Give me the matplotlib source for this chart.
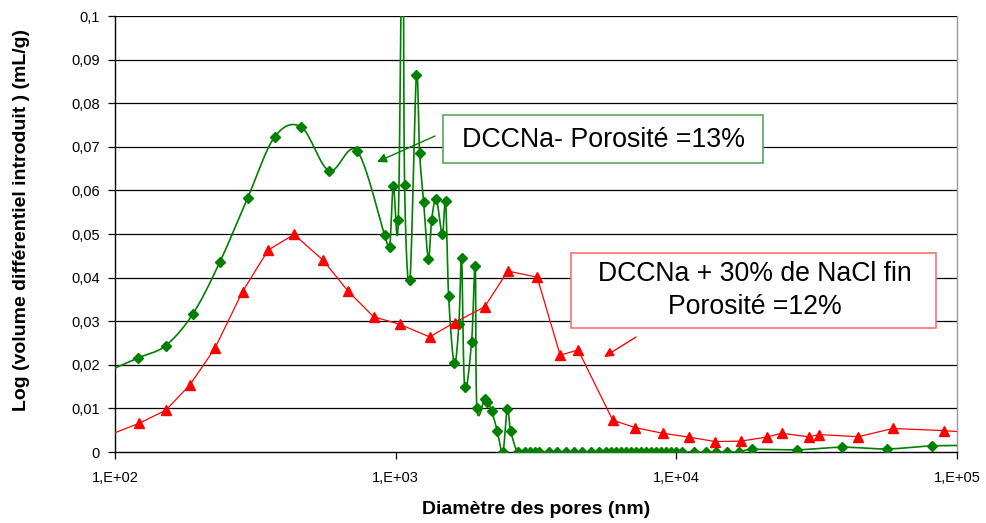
import numpy as np
import matplotlib
matplotlib.use("Agg")
import matplotlib.pyplot as plt
from matplotlib.patches import Rectangle
from matplotlib.ticker import FixedLocator, NullLocator

plt.rcParams['font.family'] = ['Liberation Sans', 'DejaVu Sans']

# ---------------- data ----------------
green_x = [90, 121, 151.5, 189.6, 236.5, 296.6, 370.9, 461.6, 579, 728, 913.7, 952, 981, 1022,
           1059, 1076, 1124, 1185, 1217, 1258, 1307, 1343, 1396, 1466, 1506, 1544, 1617, 1680,
           1718, 1761, 1864, 1921, 1947, 2073, 2120, 2196, 2301, 2409, 2498, 2567, 2717,
           2878, 2999, 3124, 3254, 3532, 3771, 4060, 4335, 4629, 4984, 5321, 5636, 5871,
           6115, 6373, 6640, 6918, 7207, 7508, 7822, 8149, 8491, 8844, 9213, 9601, 10000,
           10505, 11590, 12790, 13880, 15190, 16760, 18640, 26960, 38960, 56340, 81470, 119700]
green_y = [0.0180, 0.0216, 0.0244, 0.0317, 0.0436, 0.0582, 0.0723, 0.0745, 0.0645, 0.0691, 0.0497,
           0.0471, 0.0611, 0.0531, 0.1300, 0.0612, 0.0394, 0.0864, 0.0685, 0.0573, 0.0443, 0.0532,
           0.0580, 0.0499, 0.0576, 0.0358, 0.0203, 0.0294, 0.0445, 0.0150, 0.0252, 0.0427, 0.0102,
           0.0122, 0.0115, 0.0095, 0.0049, 0.0, 0.0099, 0.0049, 0.0,
           0, 0, 0, 0, 0, 0, 0, 0, 0, 0, 0, 0, 0, 0, 0, 0, 0, 0, 0, 0, 0, 0, 0, 0, 0, 0,
           0, 0, 0, 0, 0, 0, 0.0006, 0.0005, 0.0011, 0.0007, 0.0014, 0.0015]

red_x = [92, 122, 151.9, 184.9, 227, 284.8, 351.3, 434.6, 551, 676.6, 835, 1033, 1321, 1622,
         2075, 2510, 3193, 3857, 4468, 5934, 7130, 8935, 11120, 13740, 16990, 20960, 23710,
         29580, 32360, 44440, 59180, 89700, 125000]
red_y = [0.0035, 0.0066, 0.0096, 0.0154, 0.0238, 0.0368, 0.0463, 0.0499, 0.0440, 0.0369, 0.0310,
         0.0293, 0.0264, 0.0297, 0.0333, 0.0415, 0.0401, 0.0222, 0.0234, 0.0073, 0.0056, 0.0043,
         0.0034, 0.0024, 0.0025, 0.0034, 0.0043, 0.0035, 0.0040, 0.0035, 0.0054, 0.0049, 0.0043]

y_ticks = [0, 0.01, 0.02, 0.03, 0.04, 0.05, 0.06, 0.07, 0.08, 0.09, 0.1]
y_tick_labels = ["0", "0,01", "0,02", "0,03", "0,04", "0,05", "0,06", "0,07", "0,08", "0,09", "0,1"]
x_ticks = [1e2, 1e3, 1e4, 1e5]
x_tick_labels = ["1,E+02", "1,E+03", "1,E+04", "1,E+05"]

label_green = "DCCNa- Porosité =13%"
label_red_1 = "DCCNa + 30% de NaCl fin"
label_red_2 = "Porosité =12%"
xlabel = "Diamètre des pores (nm)"
ylabel = "Log (volume différentiel introduit ) (mL/g)"

GREEN = "#008000"
RED = "#FF0000"


def smooth(xs, ys, n=16):
    """Catmull-Rom (Excel-like smoothed line) in log10(x)/y space."""
    u = np.log10(np.asarray(xs, float))
    v = np.asarray(ys, float)
    P = np.column_stack([u, v])
    P = np.vstack([P[0], P, P[-1]])
    out = []
    t = np.linspace(0, 1, n, endpoint=False)[:, None]
    for i in range(1, len(P) - 2):
        p0, p1, p2, p3 = P[i - 1], P[i], P[i + 1], P[i + 2]
        c1 = p1 + (p2 - p0) / 6.0
        c2 = p2 - (p3 - p1) / 6.0
        b = ((1 - t) ** 3) * p1 + 3 * ((1 - t) ** 2) * t * c1 + 3 * (1 - t) * t ** 2 * c2 + t ** 3 * p2
        out.append(b)
    out.append(P[-2][None, :])
    out = np.vstack(out)
    return 10 ** out[:, 0], out[:, 1]


fig = plt.figure(figsize=(9.86, 5.23), dpi=100)
ax = fig.add_axes([115 / 986, 1 - 452 / 523, (957 - 115) / 986, (452 - 16) / 523])

ax.set_xscale('log')
ax.set_xlim(1e2, 1e5)
ax.set_ylim(0, 0.1)

# gridlines
for yv in y_ticks[1:]:
    ax.axhline(yv, color='black', lw=0.9, zorder=1)

# green series (smoothed)
gx, gy = smooth(green_x, green_y)
ax.plot(gx, gy, color=GREEN, lw=1.2, zorder=3)
ax.plot(green_x, green_y, linestyle='none', marker='D', ms=5.2, color=GREEN, zorder=4)

# red series
ax.plot(red_x, red_y, color=RED, lw=0.9, zorder=3)
ax.plot(red_x, red_y, linestyle='none', marker='^', ms=7, color=RED, zorder=4)

# ticks
ax.xaxis.set_major_locator(FixedLocator(x_ticks))
ax.xaxis.set_minor_locator(NullLocator())
ax.set_xticklabels(x_tick_labels)
ax.yaxis.set_major_locator(FixedLocator(y_ticks))
ax.set_yticklabels(y_tick_labels)
ax.tick_params(axis='both', direction='out', length=5, width=0.9, color='black',
               labelsize=10.5, pad=6)
ax.tick_params(axis='x', pad=9)

for s in ['left', 'bottom']:
    ax.spines[s].set_color('black')
    ax.spines[s].set_linewidth(1.0)
ax.spines['top'].set_visible(False)
ax.spines['right'].set_color('#999999')
ax.spines['right'].set_linewidth(1.0)

W, H = 842.0, 436.0
def fx(px):
    return (px - 115) / W
def fy(py):
    return (452 - py) / H

ax.set_xlabel(xlabel, fontsize=14, fontweight='bold', va='center')
ax.xaxis.set_label_coords(fx(536), fy(510))
ax.set_ylabel(ylabel, fontsize=14, fontweight='bold', va='center')
ax.yaxis.set_label_coords(fx(22), fy(220))

# annotation boxes
ax.add_patch(Rectangle((fx(443), fy(163)), fx(763) - fx(443), fy(115) - fy(163),
                       transform=ax.transAxes, facecolor='white', edgecolor='#5aa95a',
                       lw=1.2, zorder=6, clip_on=False))
ax.text(fx(604), fy(140), label_green, transform=ax.transAxes, ha='center', va='center',
        fontsize=19.3, zorder=7)
ax.annotate('', xy=(fx(377), fy(162)), xytext=(fx(435), fy(136)),
            xycoords='axes fraction', textcoords='axes fraction',
            arrowprops=dict(arrowstyle='-|>', color=GREEN, lw=1.0, mutation_scale=14,
                            shrinkA=0, shrinkB=0), zorder=7)

ax.add_patch(Rectangle((fx(571), fy(328)), fx(936) - fx(571), fy(253) - fy(328),
                       transform=ax.transAxes, facecolor='white', edgecolor='#ff7070',
                       lw=1.2, zorder=6, clip_on=False))
ax.text(fx(755), fy(274), label_red_1, transform=ax.transAxes, ha='center', va='center',
        fontsize=19.2, zorder=7)
ax.text(fx(755), fy(307), label_red_2, transform=ax.transAxes, ha='center', va='center',
        fontsize=19.2, zorder=7)
ax.annotate('', xy=(fx(604), fy(357)), xytext=(fx(636), fy(337)),
            xycoords='axes fraction', textcoords='axes fraction',
            arrowprops=dict(arrowstyle='-|>', color=RED, lw=1.0, mutation_scale=14,
                            shrinkA=0, shrinkB=0), zorder=7)

fig.savefig('out.png', dpi=100, facecolor='white')
